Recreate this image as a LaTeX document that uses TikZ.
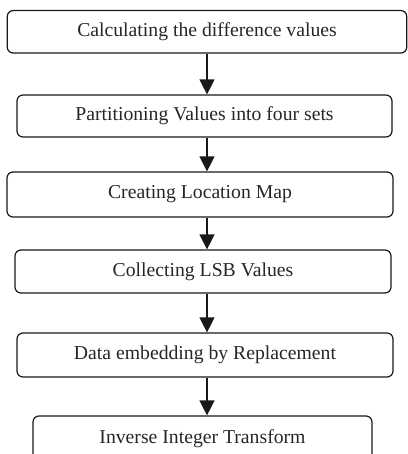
\documentclass[tikz,border=0pt]{standalone}
\usepackage{fontspec}
\setmainfont{Liberation Serif}
\usetikzlibrary{arrows.meta}
\tikzset{
  stepbox/.style={draw=black!90, line width=1.2pt, rounded corners=6pt, inner sep=0pt,
    font=\fontsize{19.7}{23}\selectfont, text=black!85},
  flow/.style={draw=black!90, line width=1.3pt, -{Triangle[width=15pt,length=15pt]}}
}
\begin{document}
\begin{tikzpicture}[x=1pt,y=-1pt]
\useasboundingbox (0,0) rectangle (407,454);
\node[stepbox, minimum width=399.5pt, minimum height=42.5pt] (b1) at (207,31.8) {Calculating the difference values};
\node[stepbox, minimum width=375pt, minimum height=42pt] (b2) at (204.5,116) {Partitioning Values into four sets};
\node[stepbox, minimum width=386pt, minimum height=45pt] (b3) at (200,194.5) {Creating Location Map};
\node[stepbox, minimum width=376pt, minimum height=43pt] (b4) at (203,271.5) {Collecting LSB Values};
\node[stepbox, minimum width=376pt, minimum height=44pt] (b5) at (205,355) {Data embedding by Replacement};
\node[stepbox, minimum width=339pt, minimum height=46pt] (b6) at (202.5,439) {Inverse Integer Transform};
\coordinate (ax) at (207,0);
\draw[flow] (b1.south -| ax) -- (b2.north -| ax);
\draw[flow] (b2.south -| ax) -- (b3.north -| ax);
\draw[flow] (b3.south -| ax) -- (b4.north -| ax);
\draw[flow] (b4.south -| ax) -- (b5.north -| ax);
\draw[flow] (b5.south -| ax) -- (b6.north -| ax);
\end{tikzpicture}
\end{document}
